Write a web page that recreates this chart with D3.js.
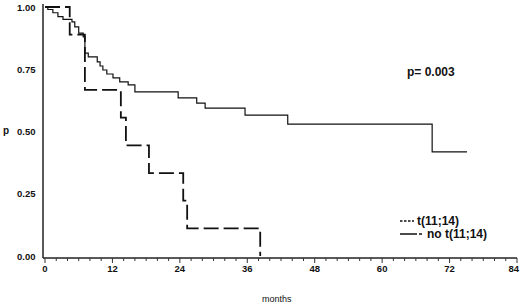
<!DOCTYPE html>
<html>
<head>
<meta charset="utf-8">
<script src="https://cdn.jsdelivr.net/npm/d3@7"></script>
<style>
  body { margin: 0; background: #fff; }
  text { font-family: "Liberation Sans", Arial, sans-serif; fill: #111; }
  .tick-label { font-size: 9.5px; font-weight: bold; }
</style>
</head>
<body>
<div id="chart"></div>
<script>
// survival curve, no t(11;14) (solid)
let noTransMonths = [0, 0.5, 1.4, 2.3, 3.2, 4.8, 5.3, 6.0, 6.8, 7.1, 7.7, 9.3, 9.8, 10.3, 11.0, 12.1, 13.3, 14.8, 16.0, 23.7, 27.0, 28.5, 35.6, 43.2, 68.9, 75.1];
let noTransP = [1.0, 0.99, 0.977, 0.961, 0.95, 0.94, 0.92, 0.895, 0.88, 0.815, 0.80, 0.78, 0.763, 0.747, 0.731, 0.715, 0.699, 0.687, 0.659, 0.635, 0.614, 0.594, 0.566, 0.53, 0.418, 0.418];

// survival curve, t(11;14) (dashed)
let transMonths = [0, 4.4, 7.1, 13.5, 14.4, 18.5, 24.6, 25.3, 38.3];
let transP = [1.0, 0.889, 0.667, 0.556, 0.444, 0.333, 0.222, 0.111, 0.0];

let xTicks = [0, 12, 24, 36, 48, 60, 72, 84];
let yTicks = [0, 0.25, 0.5, 0.75, 1.0];
let legendLabels = ["t(11;14)", "no t(11;14)"];
let pValueLabel = "p= 0.003";

let width = 520, height = 306;

let svg = d3.select("#chart").append("svg")
    .attr("width", width)
    .attr("height", height);

// scales
let x = d3.scaleLinear().domain([0, 84]).range([45, 517]);
let y = d3.scaleLinear().domain([0, 1]).range([256, 7]);

let axisX = 43, axisY = 258;

// axis lines
svg.append("line")
    .attr("x1", axisX).attr("x2", axisX)
    .attr("y1", 4).attr("y2", axisY)
    .attr("stroke", "#222").attr("stroke-width", 1.5);
svg.append("line")
    .attr("x1", axisX).attr("x2", x(84))
    .attr("y1", axisY).attr("y2", axisY)
    .attr("stroke", "#222").attr("stroke-width", 1.5);

// x ticks: minor every 2 months, major every 12
let minor = d3.range(0, 85, 2);
svg.append("g").selectAll("line")
    .data(minor)
    .join("line")
    .attr("x1", d => x(d)).attr("x2", d => x(d))
    .attr("y1", axisY)
    .attr("y2", d => axisY + (d % 12 === 0 ? 5 : 3))
    .attr("stroke", "#333").attr("stroke-width", 1);

// last label sits flush with the right edge, like the original
svg.append("g").selectAll("text")
    .data(xTicks)
    .join("text")
    .attr("class", "tick-label")
    .attr("x", d => d === 84 ? 519 : x(d))
    .attr("y", 272)
    .attr("text-anchor", d => d === 84 ? "end" : "middle")
    .text(d => d);

// y tick labels (no tick marks), left aligned
svg.append("g").selectAll("text")
    .data(yTicks)
    .join("text")
    .attr("class", "tick-label")
    .attr("x", 17)
    .attr("y", d => y(d) + 3.5)
    .text(d => d3.format(".2f")(d));

// axis titles
svg.append("text")
    .attr("x", 3).attr("y", y(0.5) + 2)
    .attr("font-size", "10px").attr("font-weight", "bold")
    .text("p");
svg.append("text")
    .attr("x", 262).attr("y", 302)
    .attr("font-size", "9px")
    .text("months");

// step lines
let line = d3.line()
    .curve(d3.curveStepAfter)
    .x(d => x(d[0]))
    .y(d => y(d[1]));

svg.append("path")
    .datum(d3.zip(noTransMonths, noTransP))
    .attr("d", line)
    .attr("fill", "none")
    .attr("stroke", "#111")
    .attr("stroke-width", 1.2);

svg.append("path")
    .datum(d3.zip(transMonths, transP))
    .attr("d", line)
    .attr("fill", "none")
    .attr("stroke", "#111")
    .attr("stroke-width", 1.8)
    .attr("stroke-dasharray", "15,5");

// p value
svg.append("text")
    .attr("x", 407).attr("y", 76)
    .attr("font-size", "12px")
    .attr("font-weight", "bold")
    .text(pValueLabel);

// legend
let legend = svg.append("g");
legend.append("line")
    .attr("x1", 400).attr("x2", 414)
    .attr("y1", 221).attr("y2", 221)
    .attr("stroke", "#111").attr("stroke-width", 1.3)
    .attr("stroke-dasharray", "2.5,1.5");
legend.append("line")
    .attr("x1", 400).attr("x2", 424)
    .attr("y1", 234).attr("y2", 234)
    .attr("stroke", "#111").attr("stroke-width", 1.3)
    .attr("stroke-dasharray", "17,2,3,2");
legend.selectAll("text")
    .data(legendLabels)
    .join("text")
    .attr("x", (d, i) => i === 0 ? 417 : 427)
    .attr("y", (d, i) => 225 + i * 13)
    .attr("font-size", "12px")
    .attr("font-weight", "bold")
    .text(d => d);
</script>
</body>
</html>
